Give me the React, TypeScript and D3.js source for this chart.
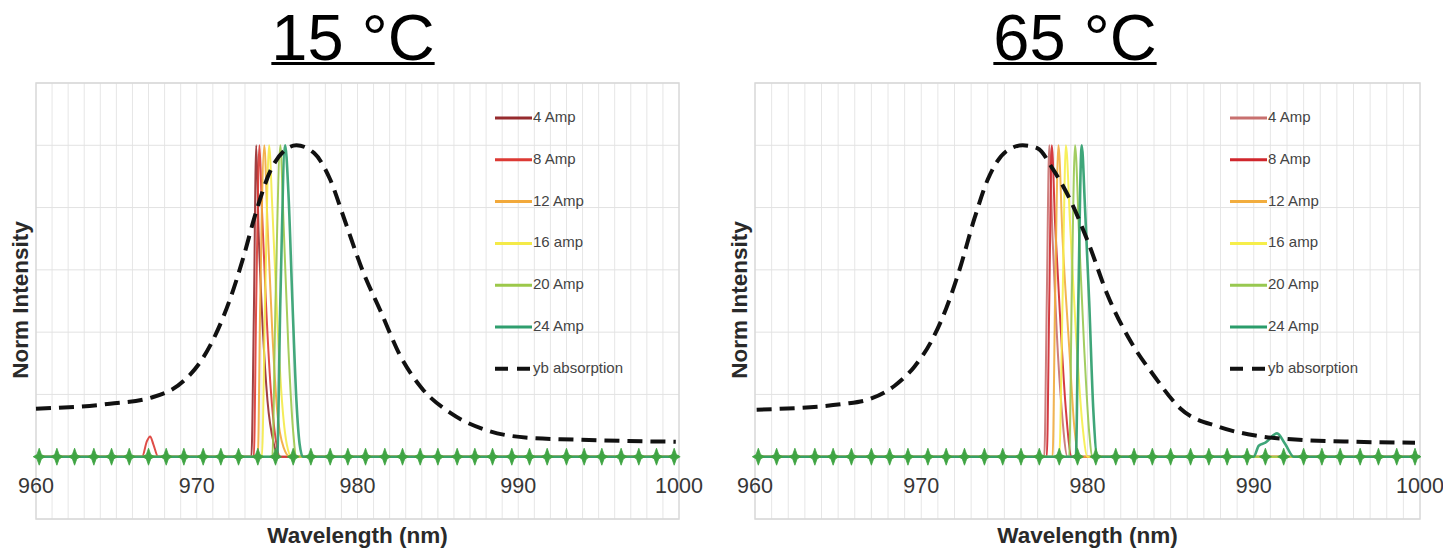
import React, { useEffect, useRef } from "react";
import * as d3 from "d3";

const seriesNames = ["4 Amp", "8 Amp", "12 Amp", "16 amp", "20 Amp", "24 Amp"];
const absorptionName = "yb absorption";
const xTicks = [960, 970, 980, 990, 1000];
const yGrid = [-0.2, 0, 0.2, 0.4, 0.6, 0.8, 1.0, 1.2];

const colors15 = ["#962b2e", "#dc3a34", "#f2a93b", "#f4ea48", "#9cc84a", "#2f9e6e"];
const colors65 = ["#c8706f", "#d0262c", "#f2ad3e", "#f6ee4a", "#98c850", "#2a9c6a"];

// [wavelength nm, normalised intensity]
const peaks15 = [
  [[960, 0], [973.4, 0], [973.55, 0.45], [973.7, 1], [973.85, 0.72], [974.1, 0.42], [974.4, 0.18], [974.8, 0.04], [975.1, 0], [1000, 0]],
  [[960, 0], [966.6, 0], [966.9, 0.05], [967.1, 0.065], [967.3, 0.04], [967.6, 0], [973.55, 0], [973.7, 0.5], [973.9, 1], [974.05, 0.8], [974.3, 0.5], [974.6, 0.22], [974.9, 0.06], [975.2, 0], [1000, 0]],
  [[960, 0], [973.8, 0], [973.95, 0.5], [974.2, 1], [974.4, 0.75], [974.7, 0.4], [975.0, 0.15], [975.4, 0.03], [975.8, 0], [1000, 0]],
  [[960, 0], [974.05, 0], [974.25, 0.5], [974.5, 1], [974.7, 0.8], [975.0, 0.45], [975.3, 0.18], [975.6, 0.04], [975.9, 0], [1000, 0]],
  [[960, 0], [974.7, 0], [974.9, 0.5], [975.2, 1], [975.4, 0.75], [975.7, 0.35], [976.0, 0.08], [976.2, 0], [1000, 0]],
  [[960, 0], [975.0, 0], [975.2, 0.5], [975.5, 1], [975.7, 0.85], [975.95, 0.5], [976.2, 0.18], [976.4, 0.04], [976.6, 0], [1000, 0]],
];

const peaks65 = [
  [[960, 0], [977.4, 0], [977.55, 0.5], [977.7, 1], [977.9, 0.7], [978.15, 0.4], [978.45, 0.15], [978.8, 0], [1000, 0]],
  [[960, 0], [977.55, 0], [977.7, 0.5], [977.85, 1], [978.05, 0.75], [978.35, 0.45], [978.7, 0.15], [979.05, 0], [1000, 0]],
  [[960, 0], [977.9, 0], [978.05, 0.5], [978.25, 1], [978.5, 0.7], [978.9, 0.35], [979.2, 0.1], [979.5, 0], [1000, 0]],
  [[960, 0], [978.3, 0], [978.5, 0.5], [978.7, 1], [978.95, 0.75], [979.3, 0.4], [979.7, 0.1], [980.0, 0], [1000, 0]],
  [[960, 0], [978.9, 0], [979.05, 0.5], [979.25, 1], [979.5, 0.7], [979.8, 0.35], [980.1, 0.08], [980.3, 0], [1000, 0]],
  [[960, 0], [979.3, 0], [979.45, 0.5], [979.65, 1], [979.85, 0.8], [980.1, 0.5], [980.35, 0.15], [980.6, 0], [990.0, 0], [990.3, 0.035], [990.7, 0.045], [991.4, 0.075], [991.9, 0.04], [992.4, 0], [1000, 0]],
];

const absorption15 = [
  [960.0, 0.154], [964.6, 0.17], [967.2, 0.19], [969.2, 0.244], [970.3, 0.31], [971.2, 0.395],
  [972.1, 0.51], [972.9, 0.64], [973.6, 0.77], [974.6, 0.92], [975.5, 0.985], [976.2, 1.0],
  [977.3, 0.975], [978.3, 0.89], [979.2, 0.76], [980.3, 0.6], [981.5, 0.46], [982.6, 0.33],
  [984.0, 0.22], [985.8, 0.14], [988.1, 0.084], [990.6, 0.061], [993.5, 0.055], [996.3, 0.051], [999.8, 0.048],
];

const absorption65 = [
  [960.1, 0.151], [965.4, 0.17], [967.0, 0.187], [968.4, 0.228], [969.6, 0.29], [970.6, 0.37],
  [971.5, 0.476], [972.3, 0.6], [973.2, 0.765], [974.0, 0.89], [975.1, 0.98], [976.1, 1.0],
  [977.0, 0.99], [977.9, 0.925], [979.0, 0.82], [980.1, 0.68], [981.2, 0.52], [982.6, 0.37],
  [984.0, 0.26], [985.6, 0.154], [987.9, 0.096], [990.1, 0.068], [992.5, 0.055], [996.1, 0.048], [999.7, 0.045],
];

// sample points where the spectra show small spikes on the baseline
const sampleNm = [
  960.2, 961.3, 962.4, 963.6, 964.7, 965.8, 967.0, 968.1, 969.2, 970.4, 971.5, 972.6,
  973.8, 974.9, 976.0, 977.1, 978.3, 979.4, 980.5, 981.7, 982.8, 983.9, 985.0, 986.2,
  987.3, 988.4, 989.6, 990.7, 991.8, 993.0, 994.1, 995.2, 996.4, 997.5, 998.6, 999.7,
];

const FONT = "'Liberation Sans', Arial, sans-serif";

const Panel = ({ title, titleX, x0, x1, peaks, colors, absorption, legendX, yTitleX }) => {
  const ref = useRef(null);

  useEffect(() => {
    const g = d3.select(ref.current);
    g.selectAll("*").remove();

    const x = d3.scaleLinear().domain([960, 1000]).range([x0, x1]);
    const y = d3.scaleLinear().domain([-0.2, 1.2]).range([519, 83]);

    // title
    const t = g
      .append("text")
      .attr("x", titleX)
      .attr("y", 60)
      .attr("text-anchor", "middle")
      .attr("font-family", FONT)
      .attr("font-size", 65)
      .attr("fill", "#000")
      .text(title);
    const tw = t.node().getComputedTextLength();
    g.append("line")
      .attr("x1", titleX - tw / 2)
      .attr("x2", titleX + tw / 2)
      .attr("y1", 63.5)
      .attr("y2", 63.5)
      .attr("stroke", "#000")
      .attr("stroke-width", 3);

    // grid
    g.append("g")
      .selectAll("line")
      .data(d3.range(961, 1000))
      .join("line")
      .attr("x1", (d) => x(d))
      .attr("x2", (d) => x(d))
      .attr("y1", y(1.2))
      .attr("y2", y(-0.2))
      .attr("stroke", "#e6e6e6")
      .attr("stroke-width", 1);

    g.append("g")
      .selectAll("line")
      .data(yGrid)
      .join("line")
      .attr("x1", x0)
      .attr("x2", x1)
      .attr("y1", (d) => y(d))
      .attr("y2", (d) => y(d))
      .attr("stroke", "#e2e2e2")
      .attr("stroke-width", 1);

    g.append("rect")
      .attr("x", x0)
      .attr("y", y(1.2))
      .attr("width", x1 - x0)
      .attr("height", y(-0.2) - y(1.2))
      .attr("fill", "none")
      .attr("stroke", "#d8d8d8")
      .attr("stroke-width", 1.5);

    // tick labels
    g.append("g")
      .selectAll("text")
      .data(xTicks)
      .join("text")
      .attr("x", (d) => x(d))
      .attr("y", 493)
      .attr("text-anchor", "middle")
      .attr("font-family", FONT)
      .attr("font-size", 21.5)
      .attr("fill", "#363636")
      .text((d) => d);

    // axis titles
    g.append("text")
      .attr("x", (x0 + x1) / 2)
      .attr("y", 543)
      .attr("text-anchor", "middle")
      .attr("font-family", FONT)
      .attr("font-weight", "bold")
      .attr("font-size", 22.5)
      .attr("fill", "#2a2a2a")
      .text("Wavelength (nm)");

    g.append("text")
      .attr("transform", `translate(${yTitleX},300) rotate(-90)`)
      .attr("text-anchor", "middle")
      .attr("dominant-baseline", "middle")
      .attr("font-family", FONT)
      .attr("font-weight", "bold")
      .attr("font-size", 22.5)
      .attr("fill", "#2a2a2a")
      .text("Norm Intensity");

    // spectra
    const line = d3
      .line()
      .x((d) => x(d[0]))
      .y((d) => y(d[1]))
      .curve(d3.curveMonotoneX);

    peaks.forEach((p, i) => {
      g.append("path")
        .datum(p)
        .attr("fill", "none")
        .attr("stroke", colors[i])
        .attr("stroke-width", i === peaks.length - 1 ? 2.6 : 2)
        .attr("stroke-opacity", 0.9)
        .attr("d", line);
    });

    // baseline spikes
    g.append("g")
      .selectAll("path")
      .data(sampleNm)
      .join("path")
      .attr("transform", (d) => `translate(${x(d)},${y(0)})`)
      .attr("d", "M0,-8.5L2.2,-2.2L6,0L2.2,2.2L0,8.5L-2.2,2.2L-6,0L-2.2,-2.2Z")
      .attr("fill", "#3fa443")
      .attr("stroke", "#3fa443")
      .attr("stroke-width", 0.8);

    // absorption
    g.append("path")
      .datum(absorption)
      .attr("fill", "none")
      .attr("stroke", "#111")
      .attr("stroke-width", 4)
      .attr("stroke-dasharray", "15,8")
      .attr("d", line);

    // legend
    const step = 41.8;
    seriesNames.forEach((name, i) => {
      const ly = 118 + i * step;
      g.append("line")
        .attr("x1", legendX)
        .attr("x2", legendX + 37)
        .attr("y1", ly)
        .attr("y2", ly)
        .attr("stroke", colors[i])
        .attr("stroke-width", 3);
      g.append("text")
        .attr("x", legendX + 38)
        .attr("y", ly)
        .attr("dominant-baseline", "middle")
        .attr("font-family", FONT)
        .attr("font-size", 15)
        .attr("fill", "#444")
        .text(name);
    });
    const ay = 118 + 6 * step;
    g.append("line")
      .attr("x1", legendX)
      .attr("x2", legendX + 37)
      .attr("y1", ay)
      .attr("y2", ay)
      .attr("stroke", "#111")
      .attr("stroke-width", 4)
      .attr("stroke-dasharray", "13,9");
    g.append("text")
      .attr("x", legendX + 38)
      .attr("y", ay)
      .attr("dominant-baseline", "middle")
      .attr("font-family", FONT)
      .attr("font-size", 15)
      .attr("fill", "#444")
      .text(absorptionName);
  }, [title, titleX, x0, x1, peaks, colors, absorption, legendX, yTitleX]);

  return <g ref={ref}></g>;
};

export default function App() {
  return (
    <div style={{ position: "absolute", left: 0, top: 0 }}>
      <svg width={1443} height={550} style={{ display: "block", background: "#fff" }}>
        <Panel
          title="15 °C"
          titleX={353}
          x0={36}
          x1={679}
          peaks={peaks15}
          colors={colors15}
          absorption={absorption15}
          legendX={495}
          yTitleX={22}
        />
        <Panel
          title="65 °C"
          titleX={1075}
          x0={755}
          x1={1420}
          peaks={peaks65}
          colors={colors65}
          absorption={absorption65}
          legendX={1230}
          yTitleX={741}
        />
      </svg>
    </div>
  );
}
